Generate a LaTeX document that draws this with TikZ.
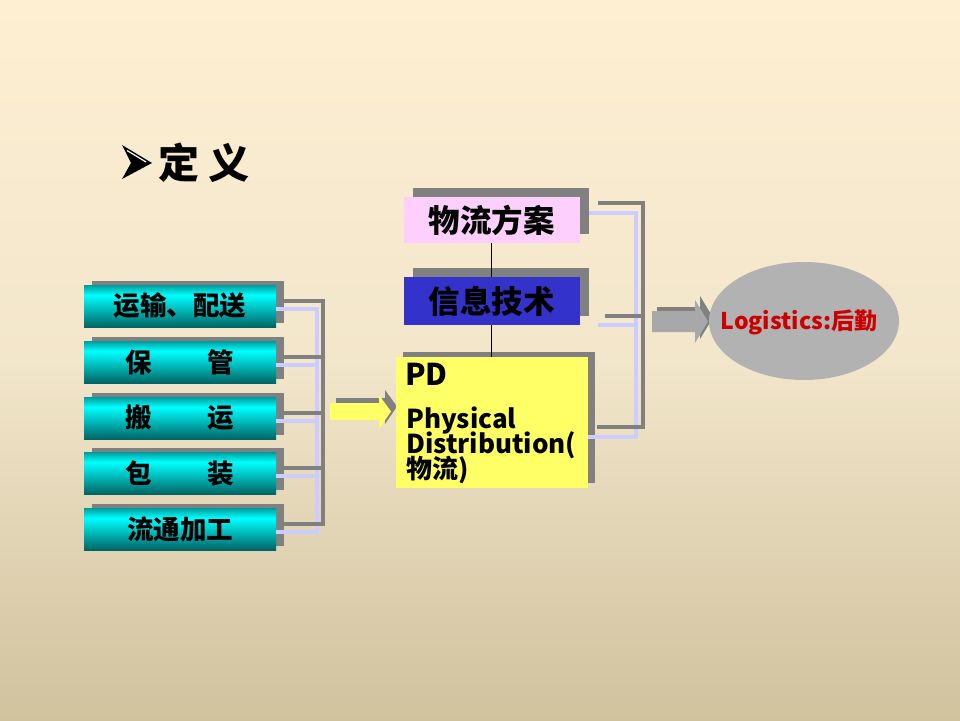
\documentclass[tikz,border=0pt]{standalone}
\usepackage{fontspec}
\newfontfamily\cjk{Noto Sans CJK SC}
\usetikzlibrary{shapes.geometric,shadows}
\definecolor{bgtop}{HTML}{FEEFD2}
\definecolor{bgmid}{HTML}{F2E6CB}
\definecolor{bgbot}{HTML}{D0C29D}
\definecolor{cyantop}{HTML}{009C9C}
\definecolor{cyanmid}{HTML}{00FFFF}
\definecolor{cyanbot}{HTML}{006464}
\definecolor{sgray}{HTML}{808080}
\definecolor{lgray}{HTML}{A8A8A8}
\definecolor{lav}{HTML}{CCCCFF}
\definecolor{pinkbox}{HTML}{FCCFFC}
\definecolor{bluebox}{HTML}{3333CC}
\definecolor{yelbox}{HTML}{FFFF66}
\definecolor{ellgray}{HTML}{B2B2B2}
\definecolor{logred}{HTML}{CC0000}
\pgfdeclareverticalshading{bgshade}{100bp}{color(0bp)=(bgbot); color(25bp)=(bgbot); color(50bp)=(bgmid); color(75bp)=(bgtop); color(100bp)=(bgtop)}
\pgfdeclareverticalshading{cyanbar}{100bp}{color(0bp)=(cyanbot); color(25bp)=(cyanbot); color(63bp)=(cyanmid); color(75bp)=(cyantop); color(100bp)=(cyantop)}
\begin{document}
\begin{tikzpicture}[x=1pt,y=-1pt,
  cbox/.style={minimum width=192pt,minimum height=42pt,inner sep=0pt,shading=cyanbar,
    general shadow={fill=sgray,shadow xshift=8pt,shadow yshift=4pt},
    font=\cjk\bfseries\fontsize{26.5}{26.5}\selectfont,text=black},
  mbox/.style={minimum width=176pt,inner sep=0pt,
    general shadow={fill=sgray,shadow xshift=9pt,shadow yshift=9pt},
    font=\cjk\bfseries\fontsize{31.5}{31.5}\selectfont,text=black},
  pdline/.style={anchor=base west,inner sep=0pt,font=\cjk\bfseries\fontsize{26}{26}\selectfont},
  gline/.style={draw=sgray,line width=4pt,line join=miter},
  lline/.style={draw=lav,line width=4pt,line join=miter},
  ]
\shade[shading=bgshade] (0,0) rectangle (960,720);
\useasboundingbox (0,0) rectangle (960,720);

% title bullet (arrowhead) and title
\fill[black] (122,145) -- (152,163) -- (122,179) -- (131,163) -- cycle;
\draw[white,line width=1.2pt] (127,150.5) -- (146,162);
\node[anchor=west,inner sep=0pt,font=\cjk\bfseries\fontsize{41}{41}\selectfont] (title) at (158,163) {定\hspace{9pt}义};

% left boxes
\node[cbox] (b1) at (180,306) {运输、配送};
\node[cbox] (b2) at (180,362) {保\hspace{56pt}管};
\node[cbox] (b3) at (180,418) {搬\hspace{56pt}运};
\node[cbox] (b4) at (180,473) {包\hspace{56pt}装};
\node[cbox] (b5) at (180,529) {流通加工};

% left connectors
\draw[lline] ([yshift=-3pt]b1.east) -- ++(41,0) |- ([yshift=-3pt]b5.east);
\foreach \b in {b2,b3,b4}{\draw[lline] ([yshift=-3pt]\b.east) -- ++(41,0);}
\draw[gline] ([xshift=8pt,yshift=5pt]b1.east) -- ++(39,0) |- ([xshift=8pt,yshift=5pt]b5.east);
\foreach \b in {b2,b3,b4}{\draw[gline] ([xshift=8pt,yshift=5pt]\b.east) -- ++(39,0);}

% yellow arrow
\fill[sgray,shift={(6,-5)}] (330,403) -- (379,403) -- (379,395) -- (391,411.5) -- (379,429) -- (379,420) -- (330,420) -- cycle;
\fill[yelbox] (330,403) -- (379,403) -- (379,395) -- (391,411.5) -- (379,429) -- (379,420) -- (330,420) -- cycle;

% middle boxes
\node[mbox,fill=pinkbox,minimum height=46pt] (m1) at (491.5,220) {物流方案};
\node[mbox,fill=bluebox,minimum height=48pt] (m2) at (491.5,301) {信息技术};
\node[minimum width=192pt,minimum height=131pt,inner sep=0pt,fill=yelbox,
  general shadow={fill=sgray,shadow xshift=7pt,shadow yshift=5pt}] (pd) at (492,422.5) {};
\draw[black,line width=0.8pt] (m1.south) -- (m2.north);
\draw[black,line width=0.8pt] (m2.south) -- (m2.south |- pd.north);
\node[anchor=base west,inner sep=0pt,font=\cjk\bfseries\fontsize{30}{30}\selectfont] (pdt) at (405,385) {PD};
\node[pdline] (pd1) at (406,428) {Physical};
\node[pdline] (pd2) at (406,453) {Distribution(};
\node[pdline] (pd3) at (406,478) {物流)};

% right connectors
\draw[lline] ([xshift=9pt,yshift=7pt]m1.east) -- (636,213) -- (636,437) -- ([yshift=-14.5pt]pd.east);
\draw[lline] ([xshift=18pt,yshift=-24pt]m2.east) -- (636,325);
\draw[gline] ([xshift=18pt,yshift=17pt]m1.east) -- (643,203) -- (643,427) -- ([xshift=9pt,yshift=-4.5pt]pd.east);
\draw[gline] ([xshift=25pt,yshift=-15pt]m2.east) -- (643,316);

% gray arrow
\fill[sgray,shift={(5,-4)}] (652,311) -- (695,311) -- (695,300) -- (708,321.5) -- (695,343) -- (695,332) -- (652,332) -- cycle;
\fill[lgray] (652,311) -- (695,311) -- (695,300) -- (708,321.5) -- (695,343) -- (695,332) -- (652,332) -- cycle;

% ellipse
\node[ellipse,fill=ellgray,minimum width=190pt,minimum height=118pt,inner sep=0pt] (log) at (804,321) {};
\node[inner sep=0pt,font=\cjk\bfseries\fontsize{23}{23}\selectfont,text=logred] (logt) at ([xshift=-5pt,yshift=-1pt]log.center) {Logistics:后勤};
\end{tikzpicture}
\end{document}
